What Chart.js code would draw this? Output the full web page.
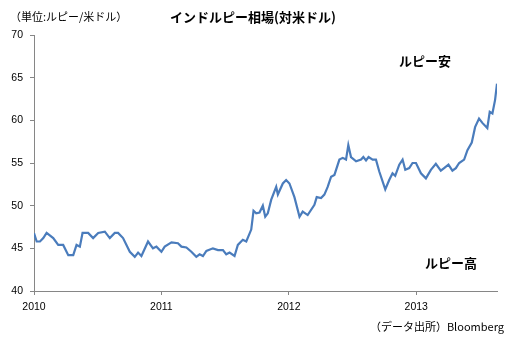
<!DOCTYPE html>
<html lang="ja">
<head>
<meta charset="utf-8">
<script src="https://cdn.jsdelivr.net/npm/chart.js@4.4.1/dist/chart.umd.min.js"></script>
<style>
  html, body { margin: 0; padding: 0; background: #fff; }
</style>
</head>
<body>
<canvas id="c" width="512" height="341"></canvas>
<script>
// 週次のルピー/米ドル（年は小数表記）
const years = [
  2010.000, 2010.021, 2010.047, 2010.073, 2010.099, 2010.151, 2010.190, 2010.229, 2010.269, 2010.308,
  2010.334, 2010.360, 2010.381, 2010.425, 2010.464, 2010.504, 2010.556, 2010.595, 2010.634, 2010.660,
  2010.699, 2010.752, 2010.791, 2010.817, 2010.843, 2010.895, 2010.934, 2010.961, 2011.000, 2011.026,
  2011.079, 2011.130, 2011.157, 2011.196, 2011.235, 2011.274, 2011.300, 2011.326, 2011.353, 2011.404,
  2011.444, 2011.483, 2011.509, 2011.535, 2011.574, 2011.600, 2011.639, 2011.666, 2011.705, 2011.723,
  2011.744, 2011.770, 2011.796, 2011.815, 2011.835, 2011.862, 2011.901, 2011.914, 2011.953, 2011.979,
  2012.005, 2012.044, 2012.084, 2012.109, 2012.148, 2012.201, 2012.219, 2012.253, 2012.279, 2012.305,
  2012.332, 2012.358, 2012.397, 2012.423, 2012.449, 2012.467, 2012.488, 2012.528, 2012.567, 2012.585,
  2012.606, 2012.626, 2012.658, 2012.684, 2012.710, 2012.757, 2012.788, 2012.814, 2012.835, 2012.867,
  2012.893, 2012.914, 2012.945, 2012.971, 2012.998, 2013.037, 2013.076, 2013.115, 2013.154, 2013.193,
  2013.219, 2013.253, 2013.284, 2013.311, 2013.337, 2013.376, 2013.402, 2013.436, 2013.462, 2013.493,
  2013.519, 2013.558, 2013.577, 2013.598, 2013.619, 2013.634
];
const rates = [
  46.8, 45.8, 45.8, 46.2, 46.8, 46.2, 45.4, 45.4, 44.2, 44.2,
  45.4, 45.2, 46.8, 46.8, 46.2, 46.8, 46.95, 46.2, 46.8, 46.8,
  46.2, 44.6, 44.0, 44.5, 44.1, 45.8, 45.0, 45.2, 44.6, 45.2,
  45.7, 45.6, 45.2, 45.1, 44.6, 44.0, 44.3, 44.1, 44.7, 45.0,
  44.8, 44.8, 44.3, 44.5, 44.1, 45.4, 46.0, 45.8, 47.2, 49.4,
  49.1, 49.2, 50.0, 48.7, 49.1, 50.7, 52.2, 51.3, 52.6, 53.0,
  52.6, 51.0, 48.7, 49.3, 48.9, 50.1, 51.0, 50.9, 51.3, 52.2,
  53.4, 53.6, 55.4, 55.6, 55.4, 57.1, 55.7, 55.2, 55.4, 55.7,
  55.3, 55.7, 55.4, 55.4, 54.0, 51.9, 53.0, 53.8, 53.5, 54.8,
  55.4, 54.2, 54.4, 55.0, 55.0, 53.8, 53.2, 54.2, 54.9, 54.1,
  54.4, 54.8, 54.1, 54.4, 55.0, 55.4, 56.5, 57.4, 59.2, 60.2,
  59.7, 59.1, 61.0, 60.8, 62.4, 64.3
];
const yearTicks = [2010, 2011, 2012, 2013];
const rateMin = 40, rateMax = 70, rateStep = 5;

const titleText = 'インドルピー相場(対米ドル)';
const unitText = '（単位:ルピー/米ドル）';
const weakText = 'ルピー安';
const strongText = 'ルピー高';
const sourceText = '（データ出所）Bloomberg';

const AXIS = '#868686';
const LINE = '#4a7cbc';
const JP = '"Noto Sans CJK JP", sans-serif';

// 見出し・注記を描く
const notes = {
  id: 'notes',
  afterDraw(chart) {
    const ctx = chart.ctx;
    ctx.save();
    ctx.fillStyle = '#000';
    ctx.textBaseline = 'middle';
    ctx.font = '11px ' + JP;
    ctx.textAlign = 'left';
    ctx.fillText(unitText, 10, 17);
    ctx.font = 'bold 13px ' + JP;
    ctx.textAlign = 'center';
    ctx.fillText(titleText, 253, 17);
    ctx.textAlign = 'left';
    ctx.fillText(weakText, 399, 61);
    ctx.fillText(strongText, 425, 263);
    ctx.font = '11px ' + JP;
    ctx.textAlign = 'right';
    ctx.fillText(sourceText, 504, 327);
    ctx.restore();
  }
};

new Chart(document.getElementById('c'), {
  type: 'line',
  data: {
    datasets: [{
      data: years.map((y, i) => ({ x: y, y: rates[i] })),
      borderColor: LINE,
      borderWidth: 2.2,
      pointRadius: 0,
      tension: 0,
      fill: false
    }]
  },
  options: {
    responsive: false,
    animation: false,
    devicePixelRatio: 1,
    layout: { padding: { left: 0, right: 15, top: 35, bottom: 0 } },
    plugins: { legend: { display: false }, tooltip: { enabled: false }, title: { display: false } },
    scales: {
      x: {
        type: 'linear',
        min: yearTicks[0],
        max: years[years.length - 1],
        afterFit: (s) => { s.height = 50; },
        afterBuildTicks: (s) => { s.ticks = yearTicks.map((v) => ({ value: v })); },
        ticks: {
          color: '#000',
          font: { family: '"Liberation Sans", sans-serif', size: 10.5 },
          padding: 6,
          maxRotation: 0,
          callback: (v) => String(v)
        },
        grid: { drawOnChartArea: false, color: AXIS, tickLength: 4 },
        border: { color: AXIS, width: 1 }
      },
      y: {
        min: rateMin,
        max: rateMax,
        afterFit: (s) => { s.width = 34; },
        ticks: {
          stepSize: rateStep,
          color: '#000',
          font: { family: '"Liberation Sans", sans-serif', size: 10.5 },
          padding: 7
        },
        grid: { drawOnChartArea: false, color: AXIS, tickLength: 4 },
        border: { color: AXIS, width: 1 }
      }
    }
  },
  plugins: [notes]
});
</script>
</body>
</html>
